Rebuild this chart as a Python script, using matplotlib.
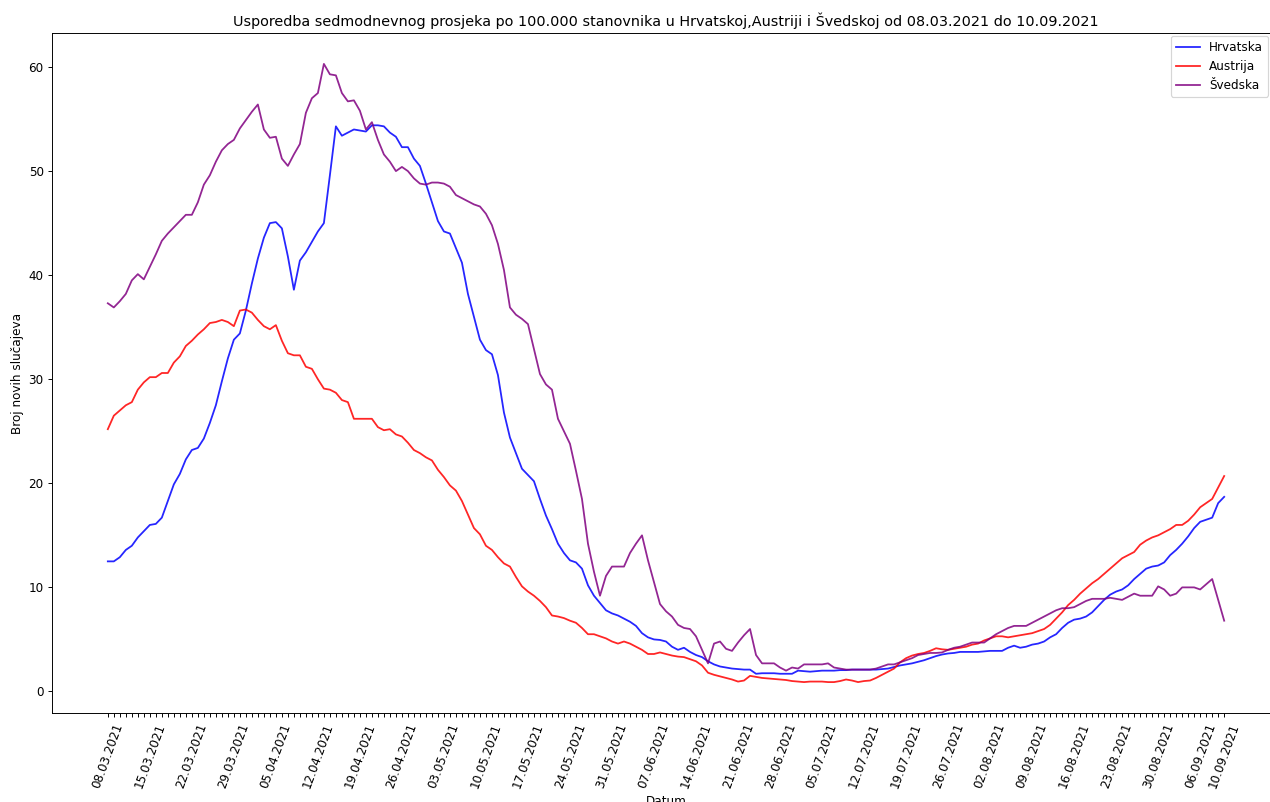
import matplotlib
matplotlib.use("Agg")
import matplotlib.pyplot as plt
import pandas as pd

dates = pd.date_range("2021-03-08", "2021-09-10", freq="D").strftime("%d.%m.%Y").tolist()

hrvatska = [
    12.5, 12.5, 12.9, 13.6, 14.0, 14.8, 15.4, 16.0, 16.1, 16.7, 18.3, 19.9, 20.9, 22.3,
    23.2, 23.4, 24.3, 25.8, 27.5, 29.8, 32.0, 33.8, 34.4, 36.6, 39.2, 41.6, 43.6, 45.0,
    45.1, 44.5, 41.8, 38.6, 41.4, 42.2, 43.2, 44.2, 45.0, 49.6, 54.3, 53.4, 53.7, 54.0,
    53.9, 53.8,
    54.4, 54.4, 54.3, 53.7, 53.3, 52.3, 52.3, 51.2, 50.5, 48.8, 47.0, 45.2, 44.2, 44.0,
    42.6, 41.2, 38.2, 36.0, 33.8, 32.8, 32.4, 30.4, 26.8, 24.4, 22.9, 21.4, 20.8, 20.2,
    18.5, 16.9, 15.6, 14.2, 13.3, 12.6, 12.4, 11.8, 10.2, 9.2, 8.5, 7.8, 7.5, 7.3, 7.0,
    6.7, 6.3,
    5.6, 5.2, 5.0, 4.95, 4.8, 4.3, 4.0, 4.2, 3.8, 3.5, 3.3, 2.9, 2.6, 2.4, 2.3, 2.2,
    2.15, 2.1, 2.1, 1.7, 1.75, 1.75, 1.75, 1.7, 1.7, 1.7, 2.0, 1.95, 1.9, 1.95, 2.0,
    2.0, 2.0, 2.05, 2.05, 2.1, 2.1, 2.1, 2.1, 2.1, 2.15, 2.2, 2.35, 2.5, 2.6, 2.7, 2.85,
    3.0, 3.2, 3.4, 3.55,
    3.65, 3.7, 3.8, 3.8, 3.8, 3.8, 3.85, 3.9, 3.9, 3.9, 4.2, 4.4, 4.2, 4.3, 4.5, 4.6,
    4.8, 5.2, 5.5, 6.1, 6.6, 6.9, 7.0, 7.2, 7.6, 8.2, 8.8, 9.3, 9.6, 9.8, 10.2, 10.8,
    11.3, 11.8, 12.0, 12.1, 12.4, 13.1, 13.6, 14.2, 14.9, 15.7, 16.3, 16.5, 16.7, 18.1,
    18.7,
]

austrija = [
    25.2, 26.5, 27.0, 27.5, 27.8, 29.0, 29.7, 30.2, 30.2, 30.6, 30.6, 31.6, 32.2, 33.2,
    33.7, 34.3, 34.8, 35.4, 35.5, 35.7, 35.5, 35.1, 36.6, 36.7, 36.4, 35.7, 35.1, 34.8,
    35.2, 33.7, 32.5, 32.3, 32.3, 31.2, 31.0, 30.0, 29.1, 29.0, 28.7, 28.0, 27.8, 26.2,
    26.2, 26.2, 26.2, 25.4, 25.1, 25.2, 24.7, 24.5, 23.9, 23.2, 22.9, 22.5, 22.2, 21.3,
    20.6, 19.8,
    19.3, 18.3, 17.0, 15.7, 15.1, 14.0, 13.6, 12.9, 12.3, 12.0, 11.0, 10.1, 9.6, 9.2,
    8.7, 8.1, 7.3, 7.2, 7.05, 6.8, 6.6, 6.1, 5.5, 5.5, 5.3, 5.1, 4.8, 4.6, 4.8, 4.6, 4.3,
    4.0, 3.6, 3.6, 3.75, 3.6, 3.45, 3.35, 3.3, 3.1, 2.9, 2.5, 1.8, 1.6, 1.45, 1.3, 1.15,
    0.95, 1.05, 1.5, 1.4, 1.3, 1.25, 1.2, 1.15, 1.1, 1.0, 0.95, 0.9, 0.95, 0.95, 0.95,
    0.9, 0.9, 1.0, 1.15, 1.05, 0.9, 1.0, 1.05, 1.3, 1.6, 1.9, 2.2, 2.8, 3.2, 3.45, 3.6,
    3.7, 3.9, 4.15, 4.05,
    4.0, 4.1, 4.2, 4.3, 4.5, 4.6, 4.9, 5.1, 5.3, 5.3, 5.2, 5.3, 5.4, 5.5, 5.6, 5.8, 6.0,
    6.4, 7.0, 7.6, 8.3, 8.8, 9.4, 9.9, 10.4, 10.8, 11.3, 11.8, 12.3, 12.8, 13.1, 13.4,
    14.1, 14.5, 14.8, 15.0, 15.3, 15.6, 16.0, 16.0, 16.4, 17.0, 17.7, 18.1, 18.5, 19.6,
    20.7,
]

svedska = [
    37.3, 36.9, 37.5, 38.2, 39.5, 40.1, 39.6, 40.8, 42.0, 43.3, 44.0, 44.6, 45.2, 45.8,
    45.8, 47.0, 48.7, 49.6, 50.9, 52.0, 52.6, 53.0, 54.1, 54.9, 55.7, 56.4, 54.0, 53.2,
    53.3, 51.2, 50.5, 51.6, 52.6, 55.6, 57.0, 57.5, 60.3, 59.3, 59.2, 57.5, 56.7, 56.8,
    55.8, 54.0, 54.7,
    53.0, 51.6, 50.9, 50.0, 50.4, 50.0, 49.3, 48.8, 48.7, 48.9, 48.9, 48.8, 48.5, 47.7,
    47.4, 47.1, 46.8, 46.6, 45.9, 44.8, 43.0, 40.5, 36.9, 36.2, 35.8, 35.3, 32.9, 30.5,
    29.5, 29.0, 26.2, 25.0, 23.8, 21.2, 18.5, 14.2, 11.5, 9.2, 11.1, 12.0, 12.0, 12.0,
    13.3, 14.2,
    15.0, 12.6, 10.5, 8.4, 7.7, 7.2, 6.4, 6.1, 6.0, 5.3, 4.0, 2.7, 4.6, 4.8, 4.1, 3.9,
    4.7, 5.4, 6.0, 3.5, 2.7, 2.7, 2.7, 2.3, 2.0, 2.3, 2.2, 2.6, 2.6, 2.6, 2.6, 2.7, 2.3,
    2.2, 2.1, 2.1, 2.1, 2.1, 2.1, 2.2, 2.4, 2.6, 2.6, 2.8, 3.0, 3.2, 3.5, 3.6, 3.7, 3.7,
    3.75,
    4.0, 4.2, 4.3, 4.5, 4.7, 4.7, 4.7, 5.1, 5.5, 5.8, 6.1, 6.3, 6.3, 6.3, 6.6, 6.9, 7.2,
    7.5, 7.8, 8.0, 8.0, 8.1, 8.4, 8.7, 8.9, 8.9, 8.9, 9.0, 8.9, 8.8, 9.1, 9.4, 9.2, 9.2,
    9.2, 10.1, 9.8, 9.2, 9.4, 10.0, 10.0, 10.0, 9.8, 10.3, 10.8, 8.8, 6.8,
]

W, H = 1270, 802
DPI = 86
fig = plt.figure(figsize=(W / DPI, H / DPI), dpi=DPI)
ax = fig.add_axes([52 / W, 89 / H, 1228 / W, 680 / H])

ax.plot(dates, hrvatska, color="blue", alpha=0.85, linewidth=1.5, label="Hrvatska")
ax.plot(dates, austrija, color="red", alpha=0.85, linewidth=1.5, label="Austrija")
ax.plot(dates, svedska, color="purple", alpha=0.85, linewidth=1.5, label="Švedska")

n = len(dates)
ax.set_xticks(range(n))
labels = [d if (i % 7 == 0 or i == n - 1) else "" for i, d in enumerate(dates)]
ax.set_xticklabels(labels, rotation=70, fontsize=10)
ax.tick_params(axis="y", labelsize=10)

ax.set_title("Usporedba sedmodnevnog prosjeka po 100.000 stanovnika u Hrvatskoj,"
             "Austriji i Švedskoj od 08.03.2021 do 10.09.2021", fontsize=12)
ax.set_xlabel("Datum", fontsize=10)
ax.set_ylabel("Broj novih slučajeva", fontsize=10)

ax.legend(loc="upper right", bbox_to_anchor=(1268 / W, 1 - 36 / H),
          bbox_transform=fig.transFigure, borderaxespad=0, fontsize=10)

fig.savefig("out.png", dpi=DPI)
